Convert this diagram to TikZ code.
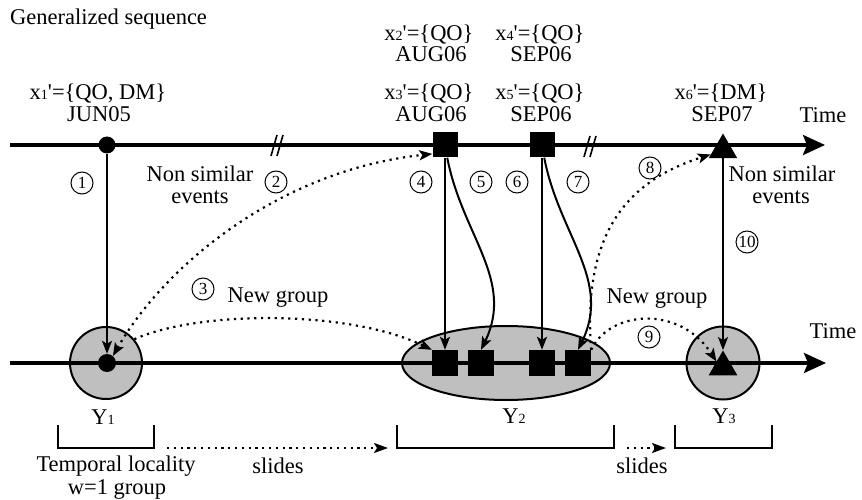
\documentclass[tikz,border=0pt]{standalone}
\usepackage{fontspec}
\setmainfont{Liberation Serif}
\usetikzlibrary{arrows.meta,shapes.geometric,calc}
\newcommand{\smallidx}[1]{{\fontsize{14}{14}\selectfont #1}}
\newcommand{\apos}{\textquotesingle}
\begin{document}
\begin{tikzpicture}[x=1pt,y=-1pt,
  txt/.style={font=\fontsize{22.5}{22}\selectfont, inner sep=0pt},
  num/.style={draw, circle, line width=1pt, minimum size=22pt, inner sep=0pt, font=\fontsize{17}{17}\selectfont},
  axis/.style={line width=3.5pt, -{Stealth[length=22pt,width=20pt,inset=4pt]}},
  conn/.style={line width=2pt, -{Stealth[length=13pt,width=10pt,inset=3pt]}},
  dotconn/.style={line width=2.2pt, dash pattern=on 2.2pt off 4.6pt, -{Stealth[length=13pt,width=10pt,inset=3pt]}},
  dotslide/.style={line width=2.2pt, dash pattern=on 2.2pt off 4.6pt, -{Stealth[length=14pt,width=10pt,inset=3pt]}},
  dotmark/.style={circle, fill, inner sep=0pt, minimum size=17pt},
  sqmark/.style={rectangle, fill, inner sep=0pt, minimum size=25pt},
  trimark/.style={regular polygon, regular polygon sides=3, fill, inner sep=0pt, minimum size=33pt},
  grp/.style={draw, line width=2pt, fill=black!25, inner sep=0pt},
  bracket/.style={line width=2.5pt},
  brk/.style={line width=1.6pt}
]
\useasboundingbox (0,0) rectangle (862,500);

% groups (bottom)
\node[grp, circle, minimum size=72pt] (c1) at (106,363) {};
\node[grp, ellipse, minimum width=208pt, minimum height=74pt] (e2) at (506,363) {};
\node[grp, circle, minimum size=73pt] (c3) at (723,363) {};

% axes
\coordinate (ta0) at (10,145);
\coordinate (ta1) at (825,145);
\coordinate (ba0) at (10,363);
\coordinate (ba1) at (826,363);
\draw[axis] (ta0) -- (ta1);
\draw[axis] (ba0) -- (ba1);

% break marks
\draw[brk] (271,156) -- (277,135);
\draw[brk] (277,156) -- (283,135);
\draw[brk] (584,157) -- (590,136);
\draw[brk] (590,157) -- (596,136);

% top markers
\node[dotmark] (d1) at (107,145) {};
\node[sqmark] (s1) at (445,145) {};
\node[sqmark] (s2) at (542,145) {};
\node[trimark] (t1) at (723,150) {};

% bottom markers
\node[dotmark, minimum size=18pt] (b0) at (107,363) {};
\node[sqmark, minimum size=26pt] (q1) at (445,363) {};
\node[sqmark, minimum size=26pt] (q2) at (481,363) {};
\node[sqmark, minimum size=26pt] (q3) at (542,363) {};
\node[sqmark, minimum size=26pt] (q4) at (578,363) {};
\node[trimark] (t2) at (723,367) {};

% title and labels
\node[txt, anchor=base west] (title) at (10,25) {Generalized sequence};
\node[txt, anchor=base] (l1a) at (98,100) {x\smallidx{1}\apos=\{QO, DM\}};
\node[txt, anchor=base] (l1b) at (99,122) {JUN05};
\node[txt, anchor=base] (l2a) at (429,41) {x\smallidx{2}\apos=\{QO\}};
\node[txt, anchor=base] (l2b) at (431,62) {AUG06};
\node[txt, anchor=base] (l3a) at (429,100) {x\smallidx{3}\apos=\{QO\}};
\node[txt, anchor=base] (l3b) at (431,122) {AUG06};
\node[txt, anchor=base] (l4a) at (540,41) {x\smallidx{4}\apos=\{QO\}};
\node[txt, anchor=base] (l4b) at (541,62) {SEP06};
\node[txt, anchor=base] (l5a) at (540,100) {x\smallidx{5}\apos=\{QO\}};
\node[txt, anchor=base] (l5b) at (541,122) {SEP06};
\node[txt, anchor=base] (l6a) at (721,100) {x\smallidx{6}\apos=\{DM\}};
\node[txt, anchor=base] (l6b) at (722,122) {SEP07};
\node[txt, anchor=base] (time1) at (823,123) {Time};
\node[txt, anchor=base] (time2) at (833,338) {Time};

\node[txt, anchor=base] (ns1a) at (200,182) {Non similar};
\node[txt, anchor=base] (ns1b) at (200,203) {events};
\node[txt, anchor=base] (ns2a) at (782,182) {Non similar};
\node[txt, anchor=base] (ns2b) at (781,203) {events};
\node[txt, anchor=base] (ng1) at (278,302) {New group};
\node[txt, anchor=base] (ng2) at (657,303) {New group};

\node[txt, anchor=base] (y1) at (103,424) {Y\smallidx{1}};
\node[txt, anchor=base] (y2) at (514,423) {Y\smallidx{2}};
\node[txt, anchor=base] (y3) at (724,423) {Y\smallidx{3}};

% circled numbers
\node[num] (n1) at (82,183) {1};
\node[num] (n2) at (276,182) {2};
\node[num] (n3) at (203,289) {3};
\node[num] (n4) at (421,182) {4};
\node[num] (n5) at (481,182) {5};
\node[num] (n6) at (517,182) {6};
\node[num] (n7) at (578,182) {7};
\node[num] (n8) at (650,168) {8};
\node[num] (n9) at (649,337) {9};
\node[num] (n10) at (747,242) {10};

% solid connectors
\draw[conn] (d1) -- (b0);
\draw[conn] (s1) -- (q1);
\draw[conn] (s2) -- (q3);
\draw[conn] (t1) -- (t2);
\draw[conn] (s1.-80) .. controls (462,235) and (515,280) .. (q2.north);
\draw[conn] (s2.-80) .. controls (559,235) and (612,280) .. (q4.north);

% dotted connectors
\draw[dotconn, {Stealth[length=13pt,width=10pt,inset=3pt]}-{Stealth[length=13pt,width=10pt,inset=3pt]}]
  (b0.50) .. controls (165,265) and (280,170) .. (s1.-145);
\draw[dotconn] (c1.40) .. controls (200,310) and (350,310) .. (q1.north west);
\draw[dotconn] (q4.north east) .. controls (582,230) and (630,180) .. (t1.200);
\draw[dotconn] (q4.north east) .. controls (610,310) and (680,305) .. (t2.140);

% brackets
\coordinate (k1a) at (58,425); \coordinate (k1b) at (58,448);
\coordinate (k1c) at (154,448); \coordinate (k1d) at (154,425);
\coordinate (k2a) at (397,425); \coordinate (k2b) at (397,448);
\coordinate (k2c) at (614,448); \coordinate (k2d) at (614,425);
\coordinate (k3a) at (675,425); \coordinate (k3b) at (675,448);
\coordinate (k3c) at (772,448); \coordinate (k3d) at (772,425);
\draw[bracket] (k1a) -- (k1b) -- (k1c) -- (k1d);
\draw[bracket] (k2a) -- (k2b) -- (k2c) -- (k2d);
\draw[bracket] (k3a) -- (k3b) -- (k3c) -- (k3d);
\draw[dotslide, shorten <=13pt, shorten >=9pt] (k1c) -- (k2b);
\draw[dotslide, shorten <=13pt, shorten >=9pt] (k2c) -- (k3b);

\node[txt, anchor=base] (sl1) at (278,473) {slides};
\node[txt, anchor=base] (sl2) at (642,473) {slides};
\node[txt, anchor=base] (tl) at (116,471) {Temporal locality};
\node[txt, anchor=base] (tw) at (117,494) {w=1 group};
\end{tikzpicture}
\end{document}
